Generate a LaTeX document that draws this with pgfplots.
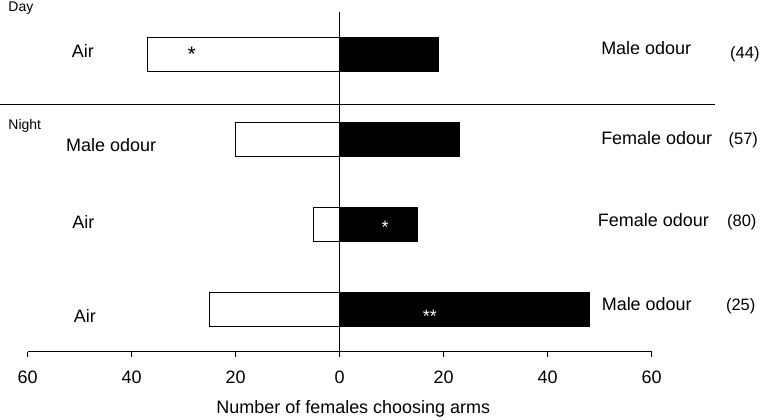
\documentclass[border=0pt]{standalone}
\usepackage{pgfplots}
\pgfplotsset{compat=1.18}
\usepackage{fontspec}
\setmainfont{Liberation Sans}

% Choices in a Y-tube: left arm (white, plotted as negative counts),
% right arm (black).  Rows from top: day, then three night tests.
\pgfplotstableread{
row  left  right
4    -37   19
3    -20   23
2    -5    15
1    -25   48
}\choices

\newcommand{\lbl}{\fontsize{18}{21}\selectfont}
\newcommand{\sml}{\fontsize{14}{16}\selectfont}
\newcommand{\nfs}{\fontsize{16.5}{19}\selectfont}
\newcommand{\stf}{\fontsize{21}{24}\selectfont}

\begin{document}
\begin{tikzpicture}
\begin{axis}[
  scale only axis,
  width=625pt, height=340.6pt,
  xmin=-60, xmax=60, ymin=0.5, ymax=4.5,
  axis x line=bottom,
  axis y line=middle,
  axis line style={-, line width=1.2pt},
  ytick=\empty,
  xtick={-60,-40,-20,0,20,40,60},
  xticklabels={60,40,20,0,20,40,60},
  tick align=outside,
  major tick length=5pt,
  tick style={line width=1.1pt, black},
  /pgf/number format/assume math mode=true,
  xticklabel style={font=\lbl, anchor=base, yshift=-27pt},
  xlabel={Number of females choosing arms},
  every axis x label/.style={at={(axis cs:2.65,0.5)}, anchor=base, yshift=-61.7pt, font=\lbl},
  clip=false,
  xbar, bar width=0.4, bar shift=0pt,
]
\addplot[draw=black, line width=0.9pt, fill=white] table[x=left, y=row] {\choices};
\addplot[draw=black, line width=0.9pt, fill=black] table[x=right, y=row] {\choices};

% day / night separator
\draw[line width=1.1pt] (axis cs:-65.3,3.41) -- (axis cs:72.2,3.41);

% period headings
\node[anchor=base west, inner sep=0pt, font=\sml] at (axis cs:-63.7,4.50) {Day};
\node[anchor=base west, inner sep=0pt, font=\sml] at (axis cs:-63.7,3.12) {Night};

% left-arm treatments
\node[anchor=base west, inner sep=0pt, font=\lbl] at (axis cs:-51.5,3.96) {Air};
\node[anchor=base west, inner sep=0pt, font=\lbl] at (axis cs:-52.6,2.856) {Male odour};
\node[anchor=base west, inner sep=0pt, font=\lbl] at (axis cs:-51.4,1.945) {Air};
\node[anchor=base west, inner sep=0pt, font=\lbl] at (axis cs:-51.1,0.841) {Air};

% right-arm treatments and sample sizes
\node[anchor=base west, inner sep=0pt, font=\lbl] at (axis cs:50.3,3.992) {Male odour};
\node[anchor=base west, inner sep=0pt, font=\nfs] at (axis cs:75.1,3.945) {(44)};
\node[anchor=base west, inner sep=0pt, font=\lbl] at (axis cs:50.3,2.935) {Female odour};
\node[anchor=base west, inner sep=0pt, font=\nfs] at (axis cs:74.8,2.935) {(57)};
\node[anchor=base west, inner sep=0pt, font=\lbl] at (axis cs:49.65,1.968) {Female odour};
\node[anchor=base west, inner sep=0pt, font=\nfs] at (axis cs:74.5,1.968) {(80)};
\node[anchor=base west, inner sep=0pt, font=\lbl] at (axis cs:50.4,0.985) {Male odour};
\node[anchor=base west, inner sep=0pt, font=\nfs] at (axis cs:74.3,0.985) {(25)};

% significance
\node[anchor=base, inner sep=0pt, font=\stf] at (axis cs:-28.4,3.92) {*};
\node[anchor=base, inner sep=0pt, font=\lbl, text=white] at (axis cs:8.75,1.886) {*};
\node[anchor=base, inner sep=0pt, font=\lbl, text=white] at (axis cs:17.4,0.841) {**};

\coordinate (bbsw) at (axis cs:-65.29,-0.295);
\coordinate (bbne) at (axis cs:81.25,4.638);
\end{axis}
\pgfresetboundingbox
\path[use as bounding box] (bbsw) rectangle (bbne);
\end{tikzpicture}
\end{document}
